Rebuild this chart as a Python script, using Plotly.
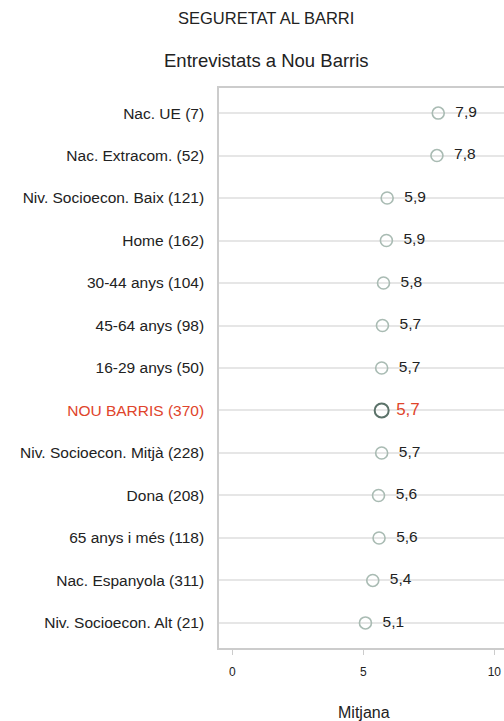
import plotly.graph_objects as go

categories = [
    "Nac. UE (7)",
    "Nac. Extracom. (52)",
    "Niv. Socioecon. Baix (121)",
    "Home (162)",
    "30-44 anys (104)",
    "45-64 anys (98)",
    "16-29 anys (50)",
    "NOU BARRIS (370)",
    "Niv. Socioecon. Mitjà (228)",
    "Dona (208)",
    "65 anys i més (118)",
    "Nac. Espanyola (311)",
    "Niv. Socioecon. Alt (21)",
]
values = [7.86, 7.81, 5.91, 5.88, 5.77, 5.73, 5.70, 5.70, 5.70, 5.58, 5.60, 5.36, 5.08]
highlight = "NOU BARRIS (370)"
x_ticks = [0, 5, 10]

RED = "#e0442b"
FONT = "Liberation Sans, Arial"
W, H = 504, 721
L, R, T, B = 219, 0, 88, 73

labels = [f"{v:.1f}".replace(".", ",") for v in values]
idx = list(range(len(categories)))
ticktext = [
    f"<span style='color:{RED}'>{c}</span>" if c == highlight else c
    for c in categories
]

normal = [i for i, c in enumerate(categories) if c != highlight]
hi = [i for i, c in enumerate(categories) if c == highlight]

fig = go.Figure()
fig.add_trace(go.Scatter(
    x=[values[i] for i in normal], y=normal,
    mode="markers+text",
    marker=dict(symbol="circle-open", size=12, color="#a9bbb3", line=dict(width=1.6, color="#a9bbb3")),
    text=["  " + labels[i] for i in normal],
    textposition="middle right",
    textfont=dict(family=FONT, size=15.5, color="#222222"),
    cliponaxis=False, showlegend=False, hoverinfo="skip",
))
fig.add_trace(go.Scatter(
    x=[values[i] for i in hi], y=hi,
    mode="markers+text",
    marker=dict(symbol="circle-open", size=14, color="#5b7269", line=dict(width=2, color="#5b7269")),
    text=[" " + labels[i] for i in hi],
    textposition="middle right",
    textfont=dict(family=FONT, size=17, color=RED),
    cliponaxis=False, showlegend=False, hoverinfo="skip",
))

n = len(categories)
fig.update_layout(
    width=W, height=H,
    margin=dict(l=L, r=R, t=T, b=B),
    paper_bgcolor="white", plot_bgcolor="white",
    font=dict(family=FONT, size=15.5, color="#222222"),
    xaxis=dict(
        range=[-0.51, 10.37], tickvals=x_ticks, ticktext=[str(t) for t in x_ticks],
        showgrid=False, zeroline=False,
        showline=True, linecolor="#cccccc", linewidth=1.5, mirror=True,
        ticks="outside", ticklen=5, tickcolor="#cccccc",
        tickfont=dict(size=12, color="#222222"), ticklabelstandoff=7,
    ),
    yaxis=dict(
        range=[n - 1 + 0.59, -0.59], tickvals=idx, ticktext=ticktext,
        showgrid=True, gridcolor="#e6e6e6", gridwidth=2, zeroline=False,
        showline=True, linecolor="#cccccc", linewidth=1.5,
        ticks="", tickfont=dict(size=15.5, color="#222222"), ticklabelstandoff=10,
    ),
    annotations=[
        dict(text="SEGURETAT AL BARRI", xref="paper", yref="paper",
             x=(266 - L) / (W - L - R), y=1 + (T - 18) / (H - T - B),
             showarrow=False, xanchor="center", yanchor="middle",
             font=dict(size=16.5, color="#222222")),
        dict(text="Entrevistats a Nou Barris", xref="paper", yref="paper",
             x=(266 - L) / (W - L - R), y=1 + (T - 61) / (H - T - B),
             showarrow=False, xanchor="center", yanchor="middle",
             font=dict(size=18.5, color="#222222")),
        dict(text="Mitjana", xref="paper", yref="paper",
             x=(364 - L) / (W - L - R), y=-(712 - (H - B)) / (H - T - B),
             showarrow=False, xanchor="center", yanchor="middle",
             font=dict(size=16, color="#222222")),
    ],
)

fig.write_html(
    "out.html",
    config={"displayModeBar": False},
    post_script="document.body.style.margin='0';document.body.style.overflow='hidden';",
)
